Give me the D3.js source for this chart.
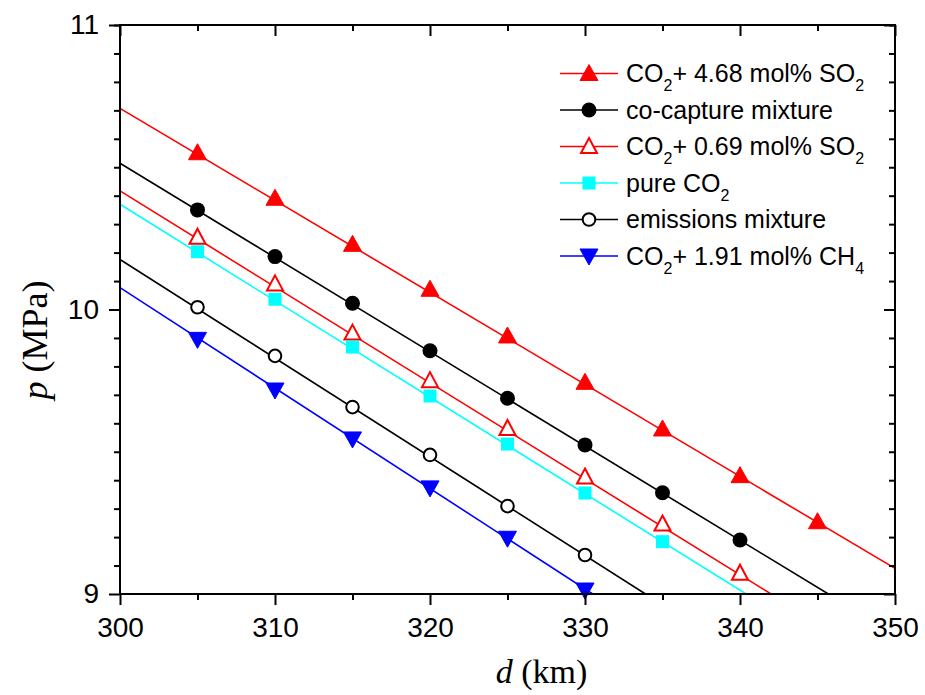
<!DOCTYPE html>
<html>
<head>
<meta charset="utf-8">
<script src="https://cdn.jsdelivr.net/npm/d3@7"></script>
<style>
  html, body { margin: 0; padding: 0; background: #fff; }
  svg { display: block; }
</style>
</head>
<body>
<svg id="chart" width="925" height="695"></svg>
<script>
// ---------- data ----------
const xTickLabels = [300, 310, 320, 330, 340, 350];
const yTickLabels = [9, 10, 11];

const seriesNames = [
  "CO2+ 4.68 mol% SO2",
  "co-capture mixture",
  "CO2+ 0.69 mol% SO2",
  "pure CO2",
  "emissions mixture",
  "CO2+ 1.91 mol% CH4"
];

const dSO2high = [305, 310, 315, 320, 325, 330, 335, 340, 345];
const pSO2high = [10.551, 10.391, 10.229, 10.071, 9.907, 9.744, 9.580, 9.416, 9.254];

const dCoCapture = [305, 310, 315, 320, 325, 330, 335, 340];
const pCoCapture = [10.350, 10.186, 10.022, 9.855, 9.688, 9.524, 9.356, 9.190];

const dSO2low = [305, 310, 315, 320, 325, 330, 335, 340];
const pSO2low = [10.254, 10.090, 9.917, 9.750, 9.582, 9.411, 9.246, 9.073];

const dPure = [305, 310, 315, 320, 325, 330, 335];
const pPure = [10.203, 10.036, 9.868, 9.696, 9.527, 9.355, 9.184];

const dEmission = [305, 310, 315, 320, 325, 330];
const pEmission = [10.008, 9.837, 9.657, 9.489, 9.309, 9.137];

const dCH4 = [305, 310, 315, 320, 325, 330];
const pCH4 = [9.895, 9.717, 9.545, 9.373, 9.196, 9.014];

// fitted lines: value at d = 300 and end point [d, p]
const fitStartP = [10.707, 10.514, 10.417, 10.370, 10.176, 10.077];
const fitEnd = [[350, 9.090], [345.7, 9], [342.0, 9], [340.4, 9], [333.9, 9], [330.5, 9]];

const seriesD = [dSO2high, dCoCapture, dSO2low, dPure, dEmission, dCH4];
const seriesP = [pSO2high, pCoCapture, pSO2low, pPure, pEmission, pCH4];
const colors = ["#ff0000", "#000000", "#ff0000", "#00ffff", "#000000", "#0000ff"];
const markers = ["triUpFill", "circleFill", "triUpOpen", "square", "circleOpen", "triDownFill"];

// ---------- layout ----------
const svg = d3.select("#chart");
const L = 120, R = 895, T = 25, B = 594;
const x = d3.scaleLinear().domain([300, 350]).range([L, R]);
const y = d3.scaleLinear().domain([9, 11]).range([B, T]);

const sans = "'Liberation Sans', Arial, sans-serif";
const serif = "'Liberation Serif', 'Times New Roman', serif";

svg.append("defs").append("clipPath").attr("id", "plotclip")
  .append("rect").attr("x", L).attr("y", T).attr("width", R - L).attr("height", B - T);

// ---------- markers ----------
function drawMarker(g, type, cx, cy, color) {
  if (type === "triUpFill" || type === "triUpOpen") {
    const open = type === "triUpOpen";
    const w = open ? 8 : 9, h1 = open ? 8.5 : 9, h2 = open ? 6.5 : 7;
    g.append("path")
      .attr("d", `M${cx},${cy - h1}L${cx + w},${cy + h2}L${cx - w},${cy + h2}Z`)
      .attr("fill", open ? "#fff" : color)
      .attr("stroke", color).attr("stroke-width", open ? 2 : 1)
      .attr("stroke-linejoin", "miter");
  } else if (type === "triDownFill") {
    g.append("path")
      .attr("d", `M${cx},${cy + 9}L${cx + 9},${cy - 7}L${cx - 9},${cy - 7}Z`)
      .attr("fill", color).attr("stroke", color).attr("stroke-width", 1);
  } else if (type === "circleFill") {
    g.append("circle").attr("cx", cx).attr("cy", cy).attr("r", 7.5)
      .attr("fill", color);
  } else if (type === "circleOpen") {
    g.append("circle").attr("cx", cx).attr("cy", cy).attr("r", 6.3)
      .attr("fill", "#fff").attr("stroke", color).attr("stroke-width", 2);
  } else if (type === "square") {
    g.append("rect").attr("x", cx - 6.5).attr("y", cy - 6.5)
      .attr("width", 13).attr("height", 13).attr("fill", color);
  }
}

// ---------- data lines and markers ----------
const plot = svg.append("g").attr("clip-path", "url(#plotclip)");
seriesNames.forEach((name, i) => {
  const pts = [[300, fitStartP[i]], fitEnd[i]];
  plot.append("path")
    .attr("d", d3.line().x(d => x(d[0])).y(d => y(d[1]))(pts))
    .attr("fill", "none").attr("stroke", colors[i]).attr("stroke-width", 1.6);
});
const mk = svg.append("g");
seriesNames.forEach((name, i) => {
  seriesD[i].forEach((d, j) => {
    drawMarker(mk, markers[i], x(d), y(seriesP[i][j]), colors[i]);
  });
});

// ---------- axes ----------
const xMajor = d3.range(300, 351, 10);
const xMinor = d3.range(305, 350, 10);
const yMajor = [9, 10, 11];
const yMinor = d3.range(9.1, 11, 0.1).filter(v => Math.abs(v - 10) > 1e-6);

function styleAxis(g) {
  g.select(".domain").remove();
  g.selectAll("line").attr("stroke", "#000").attr("stroke-width", 2);
}

// bottom
svg.append("g").attr("transform", `translate(0,${B})`)
  .call(d3.axisBottom(x).tickValues(xMinor).tickSize(6).tickFormat(""))
  .call(styleAxis);
const xb = svg.append("g").attr("transform", `translate(0,${B})`)
  .call(d3.axisBottom(x).tickValues(xTickLabels).tickSize(11).tickPadding(12).tickFormat(d3.format("d")))
  .call(styleAxis);
xb.selectAll("text").attr("font-family", sans).attr("font-size", 28).attr("fill", "#000");
// top (inward)
svg.append("g").attr("transform", `translate(0,${T})`)
  .call(d3.axisTop(x).tickValues(xMinor).tickSize(-6).tickFormat(""))
  .call(styleAxis);
svg.append("g").attr("transform", `translate(0,${T})`)
  .call(d3.axisTop(x).tickValues(xMajor).tickSize(-11).tickFormat(""))
  .call(styleAxis);
// left
svg.append("g").attr("transform", `translate(${L},0)`)
  .call(d3.axisLeft(y).tickValues(yMinor).tickSize(6).tickFormat(""))
  .call(styleAxis);
const yl = svg.append("g").attr("transform", `translate(${L},0)`)
  .call(d3.axisLeft(y).tickValues(yTickLabels).tickSize(11).tickPadding(10).tickFormat(d3.format("d")))
  .call(styleAxis);
yl.selectAll("text").attr("font-family", sans).attr("font-size", 28).attr("fill", "#000");
// right (inward)
svg.append("g").attr("transform", `translate(${R},0)`)
  .call(d3.axisRight(y).tickValues(yMinor).tickSize(-6).tickFormat(""))
  .call(styleAxis);
svg.append("g").attr("transform", `translate(${R},0)`)
  .call(d3.axisRight(y).tickValues(yMajor).tickSize(-11).tickFormat(""))
  .call(styleAxis);

// frame
svg.append("rect").attr("x", L).attr("y", T).attr("width", R - L).attr("height", B - T)
  .attr("fill", "none").attr("stroke", "#000").attr("stroke-width", 2);

// ---------- axis titles ----------
const xt = svg.append("text").attr("x", (L + R) / 2 + 34).attr("y", 683)
  .attr("text-anchor", "middle").attr("font-family", serif).attr("font-size", 34).attr("fill", "#000");
xt.append("tspan").attr("font-style", "italic").text("d");
xt.append("tspan").text(" (km)");

const yt = svg.append("text").attr("transform", `translate(47,${340}) rotate(-90)`)
  .attr("text-anchor", "middle").attr("font-family", serif).attr("font-size", 36).attr("fill", "#000");
yt.append("tspan").attr("font-style", "italic").text("p");
yt.append("tspan").text(" (MPa)");

// ---------- legend ----------
const legendRowsY = [73.5, 110, 146.5, 183, 219.5, 256];
const legend = svg.append("g");
function addLabel(t, parts) {
  let shifted = 0;
  parts.forEach(p => {
    if (p.sub) {
      t.append("tspan").attr("font-size", 16).attr("dy", 9 - shifted).text(p.s);
      shifted = 9;
    } else {
      t.append("tspan").attr("dy", -shifted).text(p.s);
      shifted = 0;
    }
  });
}
const legendParts = [
  [{s: "CO"}, {s: "2", sub: true}, {s: "+ 4.68 mol% SO"}, {s: "2", sub: true}],
  [{s: "co-capture mixture"}],
  [{s: "CO"}, {s: "2", sub: true}, {s: "+ 0.69 mol% SO"}, {s: "2", sub: true}],
  [{s: "pure CO"}, {s: "2", sub: true}],
  [{s: "emissions mixture"}],
  [{s: "CO"}, {s: "2", sub: true}, {s: "+ 1.91 mol% CH"}, {s: "4", sub: true}]
];
seriesNames.forEach((name, i) => {
  const ly = legendRowsY[i];
  legend.append("line").attr("x1", 560).attr("x2", 618).attr("y1", ly).attr("y2", ly)
    .attr("stroke", colors[i]).attr("stroke-width", 1.6);
  drawMarker(legend, markers[i], 589, ly, colors[i]);
  const t = legend.append("text").attr("x", 626).attr("y", ly + 8.5)
    .attr("font-family", sans).attr("font-size", 25).attr("fill", "#000");
  addLabel(t, legendParts[i]);
});
</script>
</body>
</html>
